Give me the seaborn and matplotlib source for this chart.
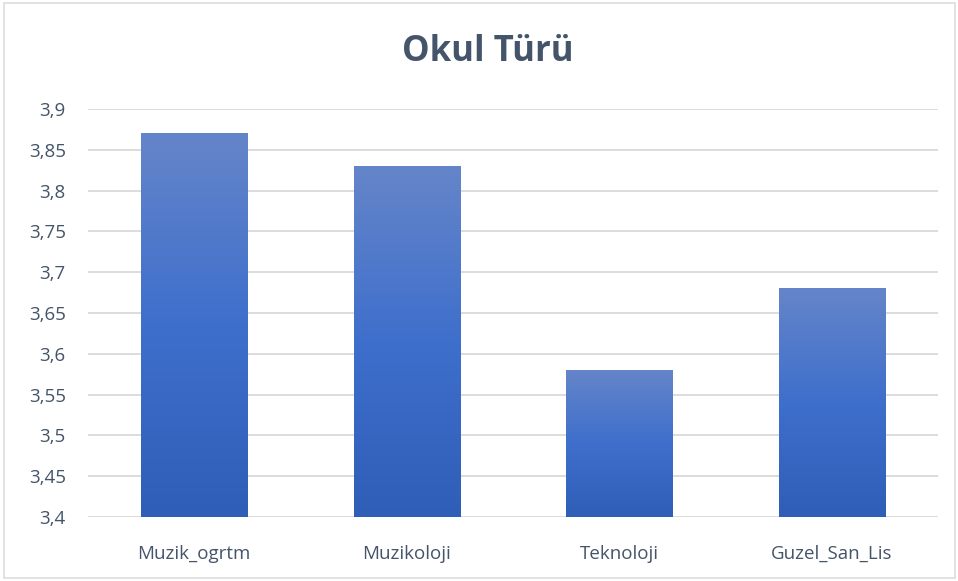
import numpy as np
import pandas as pd
import matplotlib
matplotlib.use("Agg")
import matplotlib.pyplot as plt
from matplotlib.colors import LinearSegmentedColormap
from matplotlib.patches import Rectangle
from matplotlib.ticker import FuncFormatter
import seaborn as sns

categories = ["Muzik_ogrtm", "Muzikoloji", "Teknoloji", "Guzel_San_Lis"]
values = [3.87, 3.83, 3.58, 3.68]
yticks = [3.4, 3.45, 3.5, 3.55, 3.6, 3.65, 3.7, 3.75, 3.8, 3.85, 3.9]
title = "Okul Türü"
ymin, ymax = 3.4, 3.9

sns.set_theme(style="white")
plt.rcParams["font.family"] = ["Open Sans", "DejaVu Sans"]

df = pd.DataFrame({"cat": categories, "val": values})

fig = plt.figure(figsize=(9.58, 5.81), dpi=100)
fig.patch.set_facecolor("white")
ax = fig.add_axes([88/958, (581-517)/581, (938-88)/958, (517-109)/581])

sns.barplot(data=df, x="cat", y="val", ax=ax, width=0.5, color="#4472C4", zorder=3)
ax.set_ylim(ymin, ymax)
ax.set_xlim(-0.5, 3.5)
ax.set_yticks(yticks)
ax.yaxis.set_major_formatter(FuncFormatter(lambda v, p: f"{v:g}".replace(".", ",")))
ax.grid(axis="y", color="#D9D9D9", linewidth=1.3, zorder=0)
ax.set_axisbelow(True)
for s in ax.spines.values():
    s.set_visible(False)
ax.set_xlabel("")
ax.set_ylabel("")
ax.tick_params(axis="both", length=0, labelsize=13.5, labelcolor="#44546A")
ax.tick_params(axis="y", pad=16)
ax.tick_params(axis="x", pad=20)

cmap = LinearSegmentedColormap.from_list("g", ["#2F5EB7", "#3E6FCC", "#6585C9"])
grad = np.linspace(0, 1, 256).reshape(-1, 1)
for p in list(ax.patches):
    x0 = p.get_x()
    w = p.get_width()
    top = p.get_y() + p.get_height()
    p.set_visible(False)
    ax.imshow(grad, cmap=cmap, origin="lower", aspect="auto",
              extent=[x0, x0 + w, ymin, top], zorder=3, interpolation="bilinear")
ax.set_xlim(-0.5, 3.5)
ax.set_ylim(ymin, ymax)

fig.text(488/958, 1 - 52/581, title, ha="center", va="center",
         fontsize=25, fontweight="bold", color="#44546A")

fig.patches.append(Rectangle((4/958, 3/581), 951/958, 575/581, transform=fig.transFigure,
                             fill=False, edgecolor="#DDDDDD", linewidth=1.2))

fig.savefig("out.png", dpi=100)
